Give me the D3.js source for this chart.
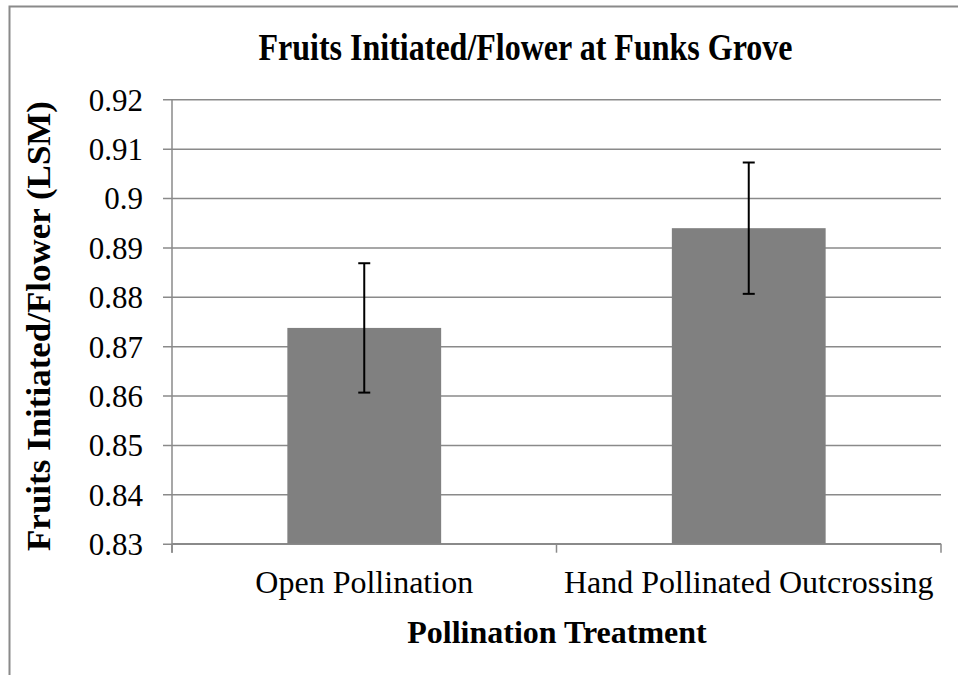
<!DOCTYPE html>
<meta charset="utf-8" />
<script src="https://d3js.org/d3.v7.min.js"></script>
<style>
  body { margin: 0; background: #fff; }
  svg text { font-family: "Liberation Serif", "Times New Roman", serif; fill: #000; }
</style>
<body>
  <div id="my_dataviz"></div>
</body>
<script>
  // chart data
  var categories = ["Open Pollination", "Hand Pollinated Outcrossing"];
  var means = [0.8737, 0.8939];
  var errors = [0.0131, 0.0133];
  var yTicks = [0.83, 0.84, 0.85, 0.86, 0.87, 0.88, 0.89, 0.9, 0.91, 0.92];

  var serif = "Liberation Serif, Times New Roman, serif";

  function draw() {
    var W = 958, H = 675;
    var plotLeft = 172, plotRight = 941, plotTop = 99.3, plotBottom = 543.7;
    var gridColor = "#8a8a8a";

    var svg = d3.select("#my_dataviz")
      .append("svg")
      .attr("width", W)
      .attr("height", H)
      .attr("font-family", serif);

    // outer frame (runs off right and bottom edge like the source)
    svg.append("rect")
      .attr("x", 9.5).attr("y", 6.5)
      .attr("width", 1000).attr("height", 700)
      .attr("fill", "none")
      .attr("stroke", gridColor)
      .attr("stroke-width", 2);

    var x = d3.scaleBand()
      .domain(categories)
      .range([plotLeft, plotRight])
      .paddingInner(0.6)
      .paddingOuter(0.3);

    var y = d3.scaleLinear().domain([0.83, 0.92]).range([plotBottom, plotTop]);

    // gridlines + y labels
    var yAxis = svg.append("g")
      .attr("transform", "translate(" + plotLeft + ",0)")
      .call(d3.axisLeft(y)
        .tickValues(yTicks)
        .tickSize(-(plotRight - plotLeft))
        .tickFormat(function (d) { return String(+d.toFixed(2)); }));
    yAxis.attr("font-family", serif).attr("font-size", 31);
    yAxis.select(".domain").remove();
    yAxis.selectAll(".tick line")
      .attr("stroke", gridColor)
      .attr("stroke-width", 1.5)
      .attr("x1", -9);
    yAxis.selectAll(".tick text")
      .attr("x", -29)
      .attr("dy", "0.35em")
      .attr("fill", "#000")
      .style("font-family", serif)
      .style("font-size", "31px");

    // y axis line
    svg.append("line")
      .attr("x1", plotLeft).attr("x2", plotLeft)
      .attr("y1", plotTop).attr("y2", plotBottom + 9)
      .attr("stroke", gridColor).attr("stroke-width", 1.5);

    // x axis line and tick marks between categories
    svg.append("line")
      .attr("x1", plotLeft).attr("x2", plotRight)
      .attr("y1", plotBottom).attr("y2", plotBottom)
      .attr("stroke", gridColor).attr("stroke-width", 1.5);
    [0, 1, 2].forEach(function (i) {
      var tx = plotLeft + i * x.step();
      svg.append("line")
        .attr("x1", tx).attr("x2", tx)
        .attr("y1", plotBottom).attr("y2", plotBottom + 9)
        .attr("stroke", gridColor).attr("stroke-width", 1.5);
    });

    // bars
    svg.selectAll("rect.bar")
      .data(categories)
      .enter()
      .append("rect")
      .attr("class", "bar")
      .attr("x", function (d) { return x(d); })
      .attr("y", function (d, i) { return y(means[i]); })
      .attr("width", x.bandwidth())
      .attr("height", function (d, i) { return plotBottom - y(means[i]); })
      .attr("fill", "#808080");

    // error bars
    var cx = function (d) { return x(d) + x.bandwidth() / 2; };
    var eb = svg.selectAll("g.err")
      .data(categories)
      .enter()
      .append("g")
      .attr("class", "err");
    eb.append("line")
      .attr("x1", cx)
      .attr("x2", cx)
      .attr("y1", function (d, i) { return y(means[i] + errors[i]); })
      .attr("y2", function (d, i) { return y(means[i] - errors[i]); })
      .attr("stroke", "#000").attr("stroke-width", 2);
    [1, -1].forEach(function (s) {
      eb.append("line")
        .attr("x1", function (d) { return cx(d) - 6; })
        .attr("x2", function (d) { return cx(d) + 6; })
        .attr("y1", function (d, i) { return y(means[i] + s * errors[i]); })
        .attr("y2", function (d, i) { return y(means[i] + s * errors[i]); })
        .attr("stroke", "#000").attr("stroke-width", 2);
    });

    // category labels
    svg.selectAll("text.cat")
      .data(categories)
      .enter()
      .append("text")
      .attr("class", "cat")
      .attr("x", cx)
      .attr("y", 593)
      .attr("text-anchor", "middle")
      .style("font-size", "32px")
      .text(function (d) { return d; });

    // titles
    svg.append("text")
      .attr("x", 525.5).attr("y", 60)
      .attr("text-anchor", "middle")
      .attr("textLength", 534)
      .attr("lengthAdjust", "spacingAndGlyphs")
      .style("font-size", "37px")
      .style("font-weight", "bold")
      .text("Fruits Initiated/Flower at Funks Grove");

    svg.append("text")
      .attr("x", 557).attr("y", 643)
      .attr("text-anchor", "middle")
      .style("font-size", "32px")
      .style("font-weight", "bold")
      .text("Pollination Treatment");

    svg.append("text")
      .attr("transform", "translate(50,326) rotate(-90)")
      .attr("text-anchor", "middle")
      .attr("textLength", 450)
      .attr("lengthAdjust", "spacingAndGlyphs")
      .style("font-size", "34px")
      .style("font-weight", "bold")
      .text("Fruits Initiated/Flower (LSM)");
  }

  draw();
</script>
